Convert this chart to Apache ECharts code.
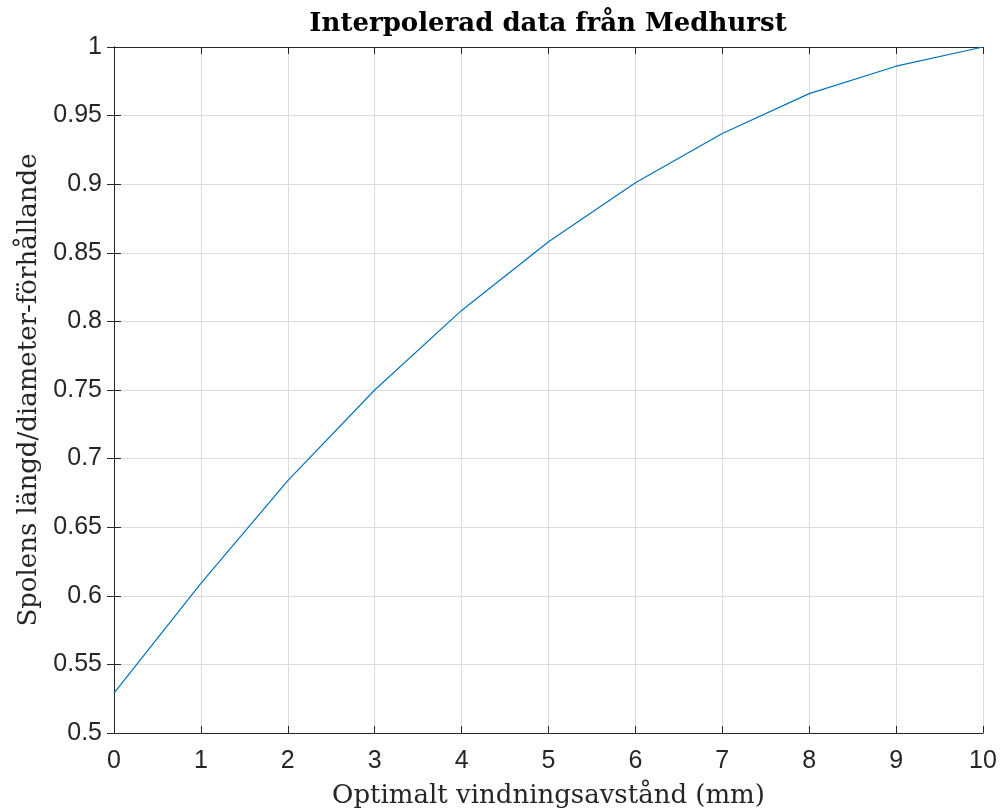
<!DOCTYPE html>
<html>
<head>
<meta charset="utf-8">
<script src="https://cdn.jsdelivr.net/npm/echarts@6/dist/echarts.min.js"></script>
<style>
  html, body { margin: 0; padding: 0; background: #fff; }
  #chart { width: 1000px; height: 811px; }
</style>
</head>
<body>
<div id="chart"></div>
<script>
// avstånd i mm och längd/diameter-förhållande
const spacing = [0, 1, 2, 3, 4, 5, 6, 7, 8, 9, 10]
const ratio = [0.529, 0.609, 0.684, 0.750, 0.808, 0.858, 0.901, 0.937, 0.966, 0.986, 1.0]

const chart = echarts.init(document.getElementById('chart'))

const axisColor = '#262626'
const tickFont = 'Liberation Sans, Arial, sans-serif'
const serifFont = 'DejaVu Serif, Liberation Serif, serif'

// gemensamma inställningar för de dolda axlarna uppe/höger (bara ticks)
const mirror = {
  axisLine: { show: true, lineStyle: { color: axisColor, width: 1 } },
  axisTick: { show: true, inside: true, length: 7, lineStyle: { color: axisColor } },
  axisLabel: { show: false },
  splitLine: { show: false },
}

chart.setOption({
  animation: false,
  backgroundColor: '#fff',
  grid: { left: 114, right: 17, top: 47, bottom: 78, outerBoundsMode: 'none', containLabel: false },
  graphic: [
    {
      type: 'text',
      x: 548,
      y: 24,
      style: {
        text: 'Interpolerad data från Medhurst',
        font: 'bold 26px ' + serifFont,
        fill: '#000',
        textAlign: 'center',
        textVerticalAlign: 'middle',
      },
    },
  ],
  xAxis: [
    {
      type: 'value',
      min: 0,
      max: 10,
      interval: 1,
      name: 'Optimalt vindningsavstånd (mm)',
      nameLocation: 'middle',
      nameGap: 50,
      nameTextStyle: { fontFamily: serifFont, fontSize: 26, color: '#262626' },
      axisLine: { show: true, lineStyle: { color: axisColor, width: 1 } },
      axisTick: { show: true, inside: true, length: 7, lineStyle: { color: axisColor } },
      axisLabel: { fontFamily: tickFont, fontSize: 25, color: '#262626', margin: 16 },
      splitLine: { show: true, lineStyle: { color: '#dcdcdc', width: 1 } },
    },
    Object.assign({ type: 'value', position: 'top', min: 0, max: 10, interval: 1 }, mirror),
  ],
  yAxis: [
    {
      type: 'value',
      min: 0.5,
      max: 1,
      interval: 0.05,
      name: 'Spolens längd/diameter-förhållande',
      nameLocation: 'middle',
      nameGap: 70,
      nameTextStyle: { fontFamily: serifFont, fontSize: 26, color: '#262626' },
      axisLine: { show: true, lineStyle: { color: axisColor, width: 1 } },
      axisTick: { show: true, inside: true, length: 7, lineStyle: { color: axisColor } },
      axisLabel: { fontFamily: tickFont, fontSize: 25, color: '#262626', margin: 12 },
      splitLine: { show: true, lineStyle: { color: '#dcdcdc', width: 1 } },
    },
    Object.assign({ type: 'value', position: 'right', min: 0.5, max: 1, interval: 0.05 }, mirror),
  ],
  series: [
    {
      type: 'line',
      data: spacing.map((x, i) => [x, ratio[i]]),
      showSymbol: false,
      lineStyle: { color: '#0072bd', width: 1.2 },
      z: 3,
    },
  ],
})
</script>
</body>
</html>
